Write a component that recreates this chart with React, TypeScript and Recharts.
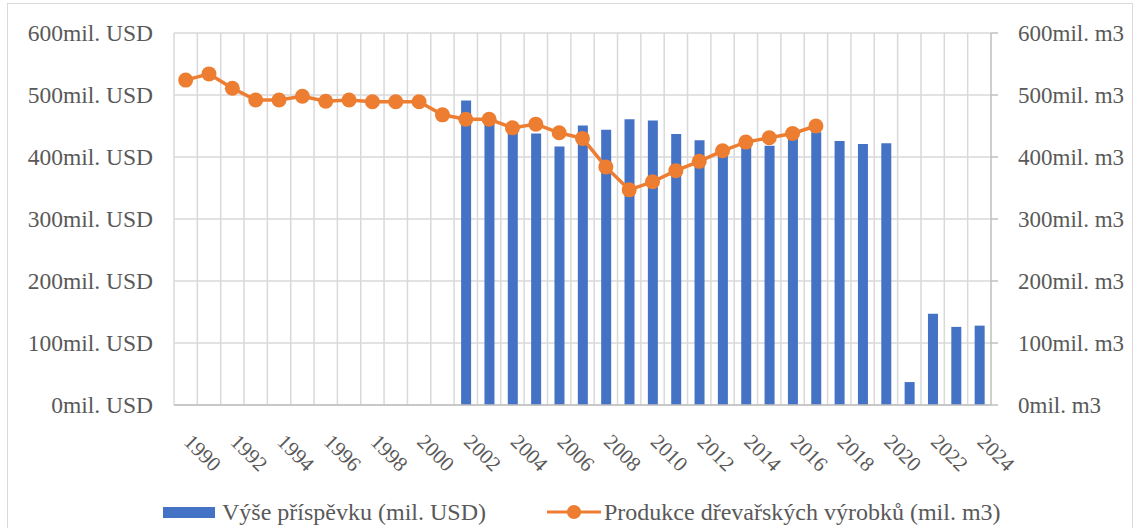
import React from 'react';
import { ComposedChart, Bar, Line, XAxis, YAxis, CartesianGrid, Legend } from 'recharts';

const years = [
  '1990', '1991', '1992', '1993', '1994', '1995', '1996', '1997', '1998', '1999',
  '2000', '2001', '2002', '2003', '2004', '2005', '2006', '2007', '2008', '2009',
  '2010', '2011', '2012', '2013', '2014', '2015', '2016', '2017', '2018', '2019',
  '2020', '2021', '2022', '2023', '2024',
];

// Výše příspěvku (mil. USD), 1990–2024
const contribution = [
  null, null, null, null, null, null, null, null, null, null,
  null, null, 491, 459, 443, 438, 417, 451, 444, 461,
  459, 437, 427, 411, 420, 418, 432, 440, 426, 421,
  422, 37, 147, 126, 128,
];

// Produkce dřevařských výrobků (mil. m3), 1990–2024
const production = [
  524, 534, 511, 492, 492, 498, 490, 492, 489, 489,
  489, 468, 461, 461, 447, 453, 439, 430, 384, 347,
  360, 378, 393, 410, 424, 431, 438, 450, null, null,
  null, null, null, null, null,
];

const yTicks = [0, 100, 200, 300, 400, 500, 600];

const data = years.map((year, i) => ({
  year,
  contribution: contribution[i],
  production: production[i],
}));

const FONT = "'Liberation Serif', 'Times New Roman', serif";
const TEXT = '#595959';
const BLUE = '#4472C4';
const ORANGE = '#ED7D31';

const YearTick = (props: any) => {
  const { x, y, payload } = props;
  return (
    <text
      x={x - 3}
      y={y + 30}
      transform={`rotate(45, ${x - 3}, ${y + 30})`}
      textAnchor="start"
      fill={TEXT}
      fontFamily={FONT}
      fontSize={21}
    >
      {payload.value}
    </text>
  );
};

const labelStyle: React.CSSProperties = { fontFamily: FONT, fontSize: 24, color: TEXT, whiteSpace: 'nowrap' };

const LegendBox = () => (
  <div style={{ position: 'relative', width: 1139, height: 26 }}>
    <div style={{ position: 'absolute', left: 163, top: 0, display: 'flex', alignItems: 'center', height: 26 }}>
      <span style={{ display: 'inline-block', width: 52, height: 11, background: BLUE, marginRight: 7 }} />
      <span style={labelStyle}>Výše příspěvku (mil. USD)</span>
    </div>
    <div style={{ position: 'absolute', left: 547, top: 0, display: 'flex', alignItems: 'center', height: 26 }}>
      <svg width={54} height={16} style={{ marginRight: 3 }}>
        <line x1={0} y1={8} x2={54} y2={8} stroke={ORANGE} strokeWidth={3} />
        <circle cx={27} cy={8} r={7} fill={ORANGE} />
      </svg>
      <span style={labelStyle}>Produkce dřevařských výrobků (mil. m3)</span>
    </div>
  </div>
);

const App: React.FC = () => {
  return (
    <div style={{ position: 'absolute', left: 0, top: 0, width: 1139, height: 528, background: '#fff', overflow: 'hidden' }}>
      <div style={{ position: 'absolute', left: 7, top: 3, width: 1124, height: 560, border: '1px solid #d9d9d9' }} />
      <ComposedChart
        width={1139}
        height={528}
        data={data}
        margin={{ top: 33, right: 0, bottom: 43, left: 0 }}
        barSize={10}
        style={{ position: 'absolute', left: 0, top: 0 }}
      >
        <CartesianGrid
          yAxisId="left"
          stroke="#d9d9d9"
          strokeWidth={1.5}
          verticalCoordinatesGenerator={({ offset }: any) =>
            years.map((_, i) => offset.left + (i * offset.width) / years.length)
          }
        />
        <XAxis
          dataKey="year"
          interval={1}
          height={80}
          tickLine={false}
          axisLine={{ stroke: '#bfbfbf', strokeWidth: 1.5 }}
          tick={<YearTick />}
        />
        <YAxis
          yAxisId="left"
          width={174}
          domain={[0, 600]}
          ticks={yTicks}
          axisLine={false}
          tickLine={false}
          tickSize={6}
          tickMargin={15}
          tickFormatter={(v: number) => `${v}mil. USD`}
          tick={{ fill: TEXT, fontFamily: FONT, fontSize: 23.5 }}
        />
        <YAxis
          yAxisId="right"
          orientation="right"
          width={148}
          domain={[0, 600]}
          ticks={yTicks}
          axisLine={{ stroke: '#bfbfbf', strokeWidth: 1.5 }}
          tickLine={{ stroke: '#bfbfbf', strokeWidth: 1.5 }}
          tickSize={7}
          tickMargin={20}
          tickFormatter={(v: number) => `${v}mil. m3`}
          tick={{ fill: TEXT, fontFamily: FONT, fontSize: 23, textAnchor: 'start' }}
        />
        <Legend
          verticalAlign="middle"
          layout="horizontal"
          wrapperStyle={{ position: 'absolute', top: 499, left: 0, width: 1139 }}
          content={() => <LegendBox />}
        />
        <Bar
          yAxisId="left"
          dataKey="contribution"
          name="Výše příspěvku (mil. USD)"
          fill={BLUE}
          isAnimationActive={false}
        />
        <Line
          yAxisId="right"
          dataKey="production"
          name="Produkce dřevařských výrobků (mil. m3)"
          stroke={ORANGE}
          strokeWidth={3.5}
          dot={{ r: 7.5, fill: ORANGE, stroke: ORANGE, strokeWidth: 0 }}
          activeDot={false}
          connectNulls={false}
          isAnimationActive={false}
        />
      </ComposedChart>
    </div>
  );
};

export default App;
